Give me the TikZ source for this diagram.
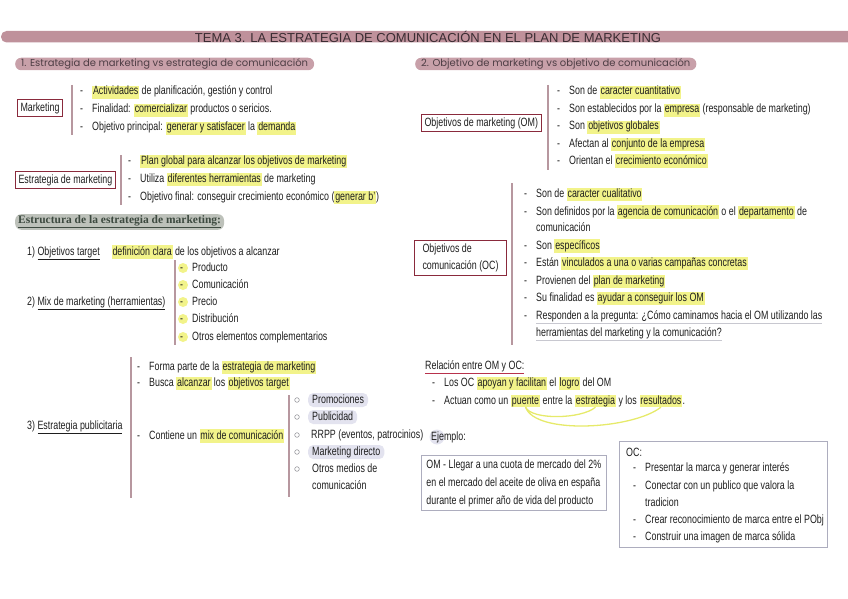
\documentclass[tikz,border=0pt]{standalone}
\usepackage{fontspec}
\setmainfont{Liberation Sans}[FakeStretch=0.74]
\newfontfamily\titlefont{Liberation Sans}
\newfontfamily\headfont{Poppins}
\newfontfamily\serifbold{Liberation Serif}
\usepackage{xcolor}
\usepackage{tikz}
\usetikzlibrary{positioning}

\definecolor{ink}{HTML}{1E1E1E}
\definecolor{hly}{HTML}{F2F38A}
\definecolor{mauve}{HTML}{BF919B}
\definecolor{pinkpill}{HTML}{C8A0A9}
\definecolor{headtxt}{HTML}{4E3E45}
\definecolor{titletxt}{HTML}{3A2C32}
\definecolor{barc}{HTML}{B7979F}
\definecolor{boxred}{HTML}{8A2A3C}
\definecolor{lavfill}{HTML}{E3E3EF}
\definecolor{greypill}{HTML}{BDC1BA}
\definecolor{strtxt}{HTML}{3D4A40}
\definecolor{exline}{HTML}{ADADBE}
\definecolor{ulred}{HTML}{B8324C}
\definecolor{ulgrey}{HTML}{C8C8D0}
\definecolor{curvey}{HTML}{E6EA6A}
\definecolor{circ}{HTML}{9A9AA0}

% highlighter, bullet dash and coloured underlines
\newcommand{\hl}[1]{{\setlength{\fboxsep}{0.8pt}\colorbox{hly}{\rule[-3pt]{0pt}{11.5pt}#1}}}
\newcommand{\itm}{\makebox[12pt][l]{-}}
\newcommand{\rul}[1]{\textcolor{ulred}{\underline{\textcolor{ink}{#1}}}}
\newcommand{\gul}[1]{\textcolor{ulgrey}{\underline{\textcolor{ink}{#1}}}}

\begin{document}
\begin{tikzpicture}[x=1pt, y=-1pt,
    txt/.style={anchor=west, inner sep=0pt, text=ink, text height=9pt, text depth=3pt, font=\fontsize{12}{14}\selectfont},
    box/.style={draw=boxred, line width=1pt, text=ink, inner xsep=3pt, inner ysep=3pt, font=\fontsize{12}{17}\selectfont},
    exbox/.style={draw=exline, line width=0.9pt, text=ink},
    pill/.style={fill=pinkpill, rounded corners=6pt, text=headtxt, inner xsep=6pt, inner ysep=1.5pt, text height=7.5pt, text depth=2pt, font=\headfont\fontsize{10}{11}\selectfont},
    strpill/.style={fill=greypill, rounded corners=6pt, text=strtxt, inner xsep=3pt, inner ysep=1.5pt, font=\serifbold\bfseries\fontsize{11.5}{13}\selectfont},
    lav/.style={txt, fill=lavfill, rounded corners=5pt, inner xsep=4pt, inner ysep=1pt},
    hlnode/.style={txt, fill=hly, inner xsep=0.8pt},
    bar/.style={draw=barc, line width=1.7pt},
    dot/.style={circle, fill=hly, inner sep=0pt, minimum size=10pt},
    curve/.style={draw=curvey, line width=1.3pt}
  ]
  \useasboundingbox (0,0) rectangle (848,599);

  % title
  \fill[mauve, rounded corners=5.5pt] (1,31) rectangle (870,42.5);
  \node[text=titletxt, font=\titlefont\fontsize{13}{15}\selectfont] (title) at (428,37) {TEMA 3. LA ESTRATEGIA DE COMUNICACIÓN EN EL PLAN DE MARKETING};

  % 1. estrategias
  \node[pill, anchor=west] (s1) at (15,64) {1. Estrategia de marketing vs estrategia de comunicación};

  \node[box, anchor=west] (mk) at (17,108) {Marketing};
  \draw[bar] (72,85) -- (72,135);
  \node[txt] (mk1) at (80,92) {\itm\hl{Actividades} de planificación, gestión y control};
  \node[txt] (mk2) at (80,110) {\itm Finalidad: \hl{comercializar} productos o sericios.};
  \node[txt] (mk3) at (80,128) {\itm Objetivo principal: \hl{generar y satisfacer} la \hl{demanda}};

  \node[box, anchor=west] (em) at (15,180) {Estrategia de marketing};
  \draw[bar] (121,155) -- (121,205);
  \node[txt] (em1) at (128,161) {\itm\hl{Plan global para alcanzar los objetivos de marketing}};
  \node[txt] (em2) at (128,179) {\itm Utiliza \hl{diferentes herramientas} de marketing};
  \node[txt] (em3) at (128,197) {\itm Objetivo final: conseguir crecimiento económico (\hl{generar b'})};

  % estructura
  \node[strpill, anchor=west] (est) at (15,222) {\underline{Estructura de la estrategia de marketing:}};
  \node[txt] (ot) at (27,252) {1) \underline{Objetivos target}\hspace{12pt}\hl{definición clara} de los objetivos a alcanzar};
  \node[txt] (mx) at (27,302) {2) \underline{Mix de marketing (herramientas)}};
  \draw[bar] (175,260) -- (175,345);
  \foreach \y/\t [count=\i] in {268/Producto, 285/Comunicación, 302/Precio, 319/Distribución, 337/Otros elementos complementarios} {
    \node[dot] (d\i) at (183,\y) {};
    \node[txt] (mx\i) at (180,\y) {\itm\t};
  }

  \node[txt] (ep) at (27,426) {3) \underline{Estrategia publicitaria}};
  \draw[bar] (131,357) -- (131,498);
  \node[txt] (ep1) at (137,367) {\itm Forma parte de la \hl{estrategia de marketing}};
  \node[txt] (ep2) at (137,383) {\itm Busca \hl{alcanzar} los \hl{objetivos target}};
  \node[txt] (ep3) at (137,436) {\itm Contiene un \hl{mix de comunicación}};
  \draw[bar] (289,395) -- (289,497);
  \foreach \y in {400,417,435,452,469}
    \draw[circ, line width=0.6pt] (297,\y) circle (2.3pt);
  \node[lav] (c1) at (308,400) {Promociones};
  \node[lav] (c2) at (308,417) {Publicidad};
  \node[txt] (c3) at (311,435) {RRPP (eventos, patrocinios)};
  \node[lav] (c4) at (308,452) {Marketing directo};
  \node[txt] (c5) at (312,469) {Otros medios de};
  \node[txt] (c6) at (312,486) {comunicación};

  % 2. objetivos
  \node[pill, anchor=west] (s2) at (415,64) {2. Objetivo de marketing vs objetivo de comunicación};

  \node[box, anchor=west] (om) at (421,123) {Objetivos de marketing (OM)};
  \draw[bar] (548,85) -- (548,170);
  \node[txt] (om1) at (557,92) {\itm Son de \hl{caracter cuantitativo}};
  \node[txt] (om2) at (557,110) {\itm Son establecidos por la \hl{empresa} (responsable de marketing)};
  \node[txt] (om3) at (557,127) {\itm Son \hl{objetivos globales}};
  \node[txt] (om4) at (557,144) {\itm Afectan al \hl{conjunto de la empresa}};
  \node[txt] (om5) at (557,161) {\itm Orientan el \hl{crecimiento económico}};

  \node[box, anchor=west, align=left, inner xsep=8pt] (oc) at (414,258) {Objetivos de\\comunicación (OC)};
  \draw[bar] (512,183) -- (512,345);
  \node[txt] (oc1) at (524,194) {\itm Son de \hl{caracter cualitativo}};
  \node[txt] (oc2) at (524,212) {\itm Son definidos por la \hl{agencia de comunicación} o el \hl{departamento} de};
  \node[txt] (oc2b) at (536,228) {comunicación};
  \node[txt] (oc3) at (524,246) {\itm Son \hl{específicos}};
  \node[txt] (oc4) at (524,263) {\itm Están \hl{vinculados a una o varias campañas concretas}};
  \node[txt] (oc5) at (524,281) {\itm Provienen del \hl{plan de marketing}};
  \node[txt] (oc6) at (524,298) {\itm Su finalidad es \hl{ayudar a conseguir los OM}};
  \node[txt] (oc7) at (524,316) {\itm\gul{Responden a la pregunta: ¿Cómo caminamos hacia el OM utilizando las}};
  \node[txt] (oc7b) at (536,333) {\gul{herramientas del marketing y la comunicación?}};

  % relacion
  \node[txt] (rel) at (425,366) {\rul{Relación entre OM y OC:}};
  \node[txt] (rl1) at (432,383) {\itm Los OC \hl{apoyan y facilitan} el \hl{logro} del OM};
  \node[txt] (rl2) at (432,401) {\itm Actuan como un};
  \node[hlnode, base right=2.4pt of rl2] (pu) {puente};
  \node[txt, base right=2.4pt of pu] (rl2b) {entre la};
  \node[hlnode, base right=2.4pt of rl2b] (es) {estrategia};
  \node[txt, base right=2.4pt of es] (rl2c) {y los};
  \node[hlnode, base right=2.4pt of rl2c] (re) {resultados};
  \node[txt, base right=0pt of re] (rl2d) {.};
  \draw[curve] (pu.south) .. controls +(6,13) and +(-14,12) .. (es.south);
  \draw[curve] (pu.south) .. controls +(10,28) and +(-28,22) .. (re.south);

  % ejemplo
  \node[circle, fill=lavfill, minimum size=15pt, inner sep=0pt] (ejc) at (437,437) {};
  \node[txt] (ej) at (431,437) {Ejemplo:};
  \node[exbox, anchor=north west, align=left, inner xsep=5pt, inner ysep=4pt, font=\fontsize{12}{18}\selectfont] (exom) at (421,455) {OM - Llegar a una cuota de mercado del 2\%\\en el mercado del aceite de oliva en españa\\durante el primer año de vida del producto};

  \node[exbox, anchor=north west, minimum width=208pt, minimum height=106pt] (exoc) at (619,441) {};
  \node[txt] (oct) at (626,453) {OC:};
  \node[txt] (ex1) at (633,468) {\itm Presentar la marca y generar interés};
  \node[txt] (ex2) at (633,486) {\itm Conectar con un publico que valora la};
  \node[txt] (ex2b) at (645,503) {tradicion};
  \node[txt] (ex3) at (633,520) {\itm Crear reconocimiento de marca entre el PObj};
  \node[txt] (ex4) at (633,537) {\itm Construir una imagen de marca sólida};
\end{tikzpicture}
\end{document}
